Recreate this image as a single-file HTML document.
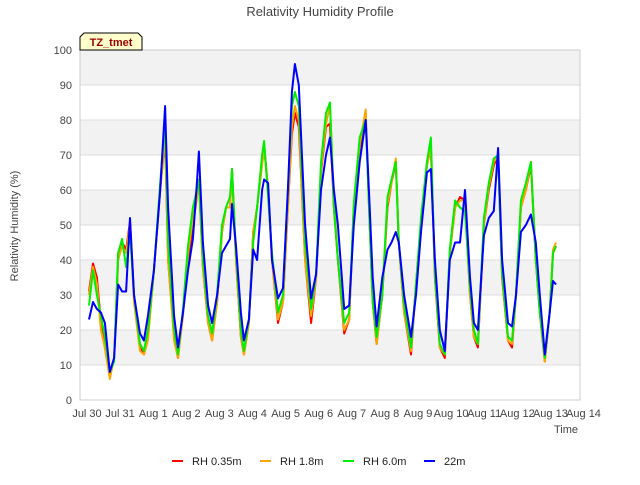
<!DOCTYPE html>
<html><head><meta charset="utf-8"><style>
body{margin:0;background:#fff;font-family:"Liberation Sans","DejaVu Sans",sans-serif}
svg text{font-family:"Liberation Sans","DejaVu Sans",sans-serif}
</style></head><body>
<svg id="chart" width="640" height="480" viewBox="0 0 640 480">
<text x="320" y="16" text-anchor="middle" font-size="13" fill="#444">Relativity Humidity Profile</text>
<g id="bands"></g>
<g id="grid"></g>
<rect x="80" y="50" width="500" height="350" fill="none" stroke="#ccc"/>
<g id="yticks"></g>
<g id="xticks"></g>
<text transform="translate(18,226) rotate(-90)" text-anchor="middle" font-size="11" fill="#444">Relativity Humidity (%)</text>
<text x="578" y="433" text-anchor="end" font-size="11" fill="#444">Time</text>
<g id="series"></g>
<g>
<path d="M80,50 L80,37 L84,33 L138,33 L142,37 L142,50 Z" fill="#ffffcc" stroke="#000" stroke-width="1"/>
<text x="111" y="46" text-anchor="middle" font-size="11" font-weight="bold" fill="#990000">TZ_tmet</text>
</g>
<g id="legend"></g>
</svg>
<script>
const yTicks=[0,10,20,30,40,50,60,70,80,90,100];
const xTickLabels=["Jul 30","Jul 31","Aug 1","Aug 2","Aug 3","Aug 4","Aug 5","Aug 6","Aug 7","Aug 8","Aug 9","Aug 10","Aug 11","Aug 12","Aug 13","Aug 14"];
const seriesNames=["RH 0.35m","RH 1.8m","RH 6.0m","22m"];
const seriesColors=["#ff0000","#ffa500","#00ee00","#0000ff"];
// time in days since Jul 30 00:00
const times=[0.06,0.18,0.30,0.42,0.54,0.69,0.82,0.94,1.06,1.18,1.30,1.42,1.60,1.72,1.84,2.02,2.21,2.36,2.45,2.63,2.75,2.90,3.05,3.20,3.32,3.38,3.50,3.66,3.78,3.93,4.08,4.20,4.32,4.38,4.50,4.65,4.74,4.89,5.02,5.14,5.29,5.35,5.47,5.59,5.77,5.92,6.07,6.19,6.28,6.40,6.59,6.77,6.92,7.07,7.22,7.34,7.46,7.58,7.77,7.92,8.06,8.24,8.42,8.54,8.63,8.75,8.92,9.08,9.20,9.33,9.42,9.58,9.79,9.94,10.09,10.27,10.39,10.51,10.66,10.81,10.96,11.12,11.27,11.42,11.57,11.69,11.81,11.99,12.14,12.29,12.42,12.54,12.72,12.84,12.96,13.11,13.26,13.41,13.56,13.68,13.83,13.98,14.08,14.17];
const rh035=[31,39,35,22,15,7,12,40,45,43,51,30,15,13,18,37,60,75,40,18,12,25,40,50,58,63,38,22,17,28,48,55,55,66,40,18,13,22,48,55,68,73,60,40,22,28,55,76,82,78,40,22,35,65,78,79,55,40,19,23,55,72,82,50,28,16,30,55,62,68,45,25,13,33,50,67,72,35,15,12,42,55,58,57,30,18,15,50,60,67,70,35,17,15,30,55,60,67,40,25,11,25,42,44];
const rh18=[30,38,33,20,15,6,12,40,44,42,50,28,14,13,17,37,60,76,40,17,12,24,42,52,58,62,38,22,17,28,48,55,55,65,40,18,13,22,48,55,67,72,60,40,23,28,55,78,84,80,40,24,35,66,79,84,58,40,20,23,55,73,83,50,28,16,30,56,62,69,45,25,14,33,50,67,72,36,15,13,42,55,57,57,30,18,16,50,61,68,70,36,17,16,30,55,60,68,40,25,11,25,43,45];
const rh60=[27,37,30,24,18,8,11,42,46,38,48,30,16,14,20,37,62,80,45,20,13,26,44,55,60,63,40,24,19,30,50,55,58,66,42,20,14,23,45,55,70,74,58,42,25,30,60,84,88,84,45,26,36,68,82,85,55,40,22,25,56,75,80,50,28,18,30,58,63,68,45,27,15,33,52,68,75,36,16,13,43,57,55,54,32,20,16,52,62,69,70,36,18,17,30,57,62,68,40,25,12,25,42,44];
const rh22=[23,28,26,25,22,8,12,33,31,31,52,30,19,17,24,37,60,84,55,24,15,25,37,46,62,71,45,27,22,30,42,44,46,56,44,25,17,23,43,40,60,63,62,40,29,32,60,88,96,90,50,29,36,60,70,75,60,50,26,27,50,68,80,55,35,21,35,43,45,48,45,30,18,30,48,65,66,40,20,14,40,45,45,60,35,22,20,47,52,54,72,40,22,21,30,48,50,53,45,30,13,25,34,33];
const seriesData=[rh035,rh18,rh60,rh22];
const NS="http://www.w3.org/2000/svg";
const X0=80,X1=580,Y0=400,Y1=50;
const dayX0=87,dayW=33.1;
function xs(t){return dayX0+t*dayW;}
function ys(v){return Y0-(v-0)/(100-0)*(Y0-Y1);}
function mk(tag,attrs,parent){const e=document.createElementNS(NS,tag);for(const k in attrs)e.setAttribute(k,attrs[k]);parent.appendChild(e);return e;}
const bands=document.getElementById('bands'),grid=document.getElementById('grid'),yt=document.getElementById('yticks'),xt=document.getElementById('xticks');
for(let i=0;i<yTicks.length-1;i++){
  const r=mk('rect',{x:X0,y:ys(yTicks[i+1]),width:X1-X0,height:ys(yTicks[i])-ys(yTicks[i+1]),fill:(i%2===1)?'#f2f2f2':'#ffffff'},bands);
  
  
}
yTicks.forEach(v=>{
  const l=mk('line',{x1:X0,x2:X1,y1:ys(v),y2:ys(v),stroke:'#dddddd'},grid);
  
  
  const t=mk('text',{x:72,y:ys(v)+4,'text-anchor':'end','font-size':11,fill:'#444'},yt);
  t.textContent=v;
  
  
});
xTickLabels.forEach((s,i)=>{
  const t=mk('text',{x:xs(i),y:417,'text-anchor':'middle','font-size':11,fill:'#444'},xt);
  t.textContent=s;
  
  
});
const sg=document.getElementById('series');
seriesData.forEach((arr,si)=>{
  const d=arr.map((v,i)=>(i?'L':'M')+xs(times[i]).toFixed(1)+','+ys(v).toFixed(1)).join(' ');
  const p=mk('path',{d:d,fill:'none',stroke:seriesColors[si],'stroke-width':2,'stroke-linejoin':'round'},sg);
  
  
});
const lg=document.getElementById('legend');
const lx=[172,260,343,424];
seriesNames.forEach((n,i)=>{
  const g=mk('g',{},lg);
  
  
  mk('line',{x1:lx[i],x2:lx[i]+11,y1:461,y2:461,stroke:seriesColors[i],'stroke-width':2},g);
  const t=mk('text',{x:lx[i]+20,y:465,'font-size':11,fill:'#222'},g);
  t.textContent=n;
});
</script>
</body></html>
